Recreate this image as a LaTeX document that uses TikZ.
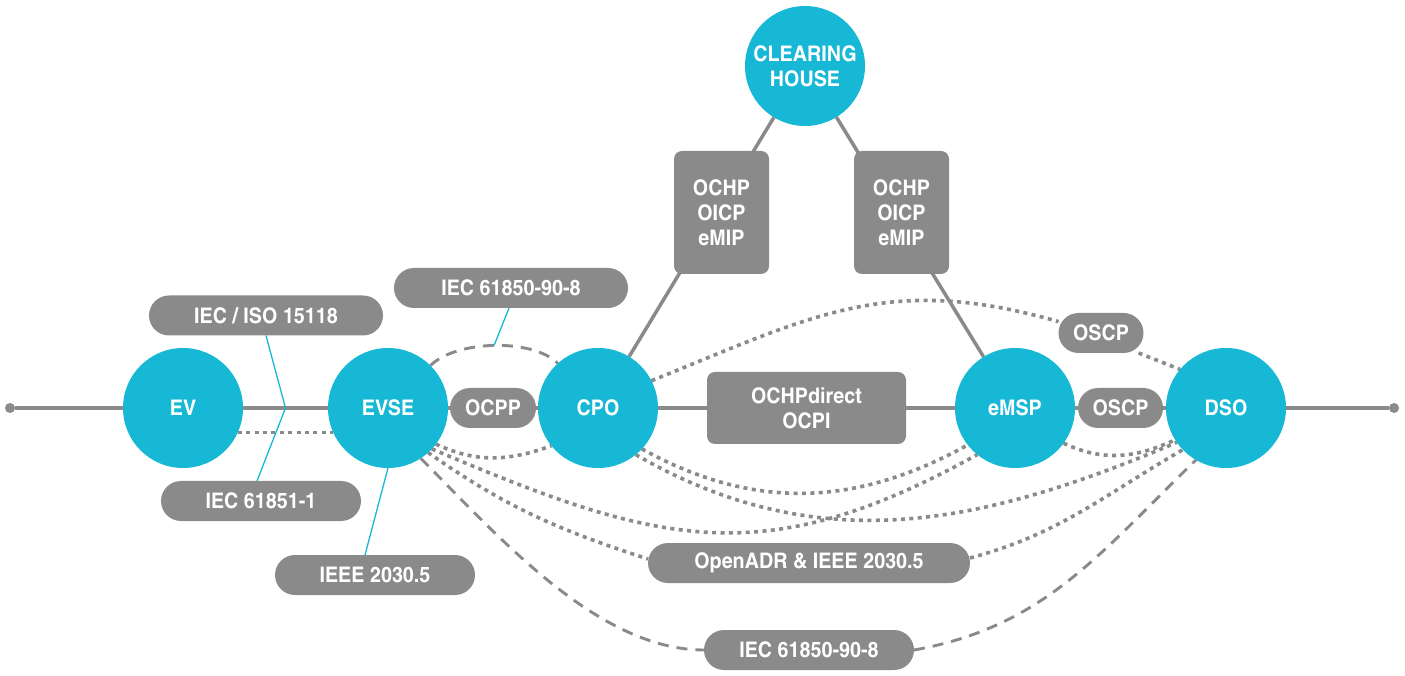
\documentclass[tikz,border=0pt]{standalone}
\usepackage{fontspec}
\newfontfamily\cnbold{texgyreheroscn-bold.otf}[FakeStretch=1.12]
\usetikzlibrary{positioning,calc,backgrounds}

\definecolor{roleblue}{HTML}{17B8D6}
\definecolor{protogray}{HTML}{8B8A8A}

\tikzset{
  role/.style={circle, fill=roleblue, text=white, minimum size=120pt,
               inner sep=0pt, outer sep=0pt, align=center},
  proto/.style={rectangle, rounded corners=20pt, fill=protogray, text=white,
                minimum height=40pt, inner sep=0pt, outer sep=0pt},
  stack/.style={rectangle, rounded corners=8pt, fill=protogray, text=white,
                align=center, inner sep=0pt, outer sep=0pt},
  enddot/.style={circle, fill=protogray, minimum size=10pt, inner sep=0pt},
  trunk/.style={draw=protogray, line width=3.5pt},
  dots/.style={draw=protogray, line width=3.6pt, dash pattern=on 4pt off 4.4pt},
  dashes/.style={draw=protogray, line width=2.9pt, dash pattern=on 11pt off 8pt},
  wire/.style={draw=roleblue, line width=1.3pt}
}

\begin{document}
\begin{tikzpicture}[x=1pt, y=1pt, font=\cnbold\fontsize{21.5}{25}\selectfont]
\useasboundingbox (0,0) rectangle (1405,675);

% roles along the charging chain
\node[role] (ev) at (183,267) {EV};
\node[role, right=85pt of ev] (evse) {EVSE};
\node[role, right=90pt of evse] (cpo) {CPO};
\node[role, right=297pt of cpo] (emsp) {eMSP};
\node[role, right=91pt of emsp] (dso) {DSO};
\node[role] (ch) at (805,609) {CLEARING\\HOUSE};
\node[enddot] (lend) at (10,267) {};
\node[enddot] (rend) at (1394,267) {};
\coordinate (kink) at ($(ev)!0.5!(evse)$);

% protocols
\node[proto, minimum width=86pt] (ocpp) at ($(evse)!0.5!(cpo)$) {OCPP};
\node[stack, minimum width=199pt, minimum height=72pt] (direct) at ($(cpo)!0.5!(emsp)$) {OCHPdirect\\OCPI};
\node[proto, minimum width=85pt] (oscp) at ($(emsp)!0.5!(dso)$) {OSCP};
\node[proto, minimum width=85pt] (oscpup) at (1101,342) {OSCP};
\node[stack, minimum width=95pt, minimum height=123pt] (roamcpo) at (721.5,462.5) {OCHP\\OICP\\eMIP};
\node[stack, minimum width=95pt, minimum height=123pt] (roamemsp) at (901.5,462.5) {OCHP\\OICP\\eMIP};
\node[proto, minimum width=234pt] (iso) at (266,359.5) {IEC / ISO 15118};
\node[proto, minimum width=200pt] (iec51) at (261,174) {IEC 61851-1};
\node[proto, minimum width=200pt] (ieee) at (375,100) {IEEE 2030.5};
\node[proto, minimum width=234pt] (iecup) at (511,387) {IEC 61850-90-8};
\node[proto, minimum width=322pt] (adr) at (809,112) {OpenADR \& IEEE 2030.5};
\node[proto, minimum width=210pt] (iecdn) at (809,25) {IEC 61850-90-8};

\begin{scope}[on background layer]
  \draw[trunk] (lend) -- (ev) -- (evse) -- (cpo) -- (emsp) -- (dso) -- (rend);
  \draw[trunk] (ch) -- (cpo) (ch) -- (emsp);
  % dotted links
  \draw[dots] (ev.-24) -- (evse.204);
  \draw[dots] (evse.-37) to[out=-25, in=200] (cpo.219);
  \draw[dots] (emsp.-36) to[out=-25, in=205] (dso.212);
  \draw[dots] (cpo.-43) to[out=-29, in=209] (emsp.218);
  \draw[dots] (cpo.-51) to[out=-30, in=203] (dso.215);
  \draw[dots] (evse.-43) to[out=-23, in=209, looseness=1.15] (emsp.231);
  \draw[dots] (evse.-48) to[out=-35, in=162] ([yshift=4pt]adr.west);
  \draw[dots] ([yshift=5pt]adr.east) to[out=15, in=210] (dso.224);
  \draw[dots] (cpo.27) to[out=22, in=164, looseness=1.1] (oscpup.165);
  \draw[dots] (oscpup.-28) -- (dso.140);
  % dashed links
  \draw[dashes] (evse.45) to[out=45, in=135, distance=36pt] coordinate[pos=0.5] (crest) (cpo.132);
  \draw[dashes] (evse.-57) to[out=-45, in=180, looseness=0.8] (iecdn.west);
  \draw[dashes] (iecdn.east) to[out=10, in=224] (dso.240);
  % label leaders
  \draw[wire] (iso.south) -- (kink) -- ([xshift=-4pt]iec51.north);
  \draw[wire] (evse.south) -- ([xshift=-10pt]ieee.north);
  \draw[wire] ([xshift=-2pt]iecup.south) -- (crest);
\end{scope}
\end{tikzpicture}
\end{document}
